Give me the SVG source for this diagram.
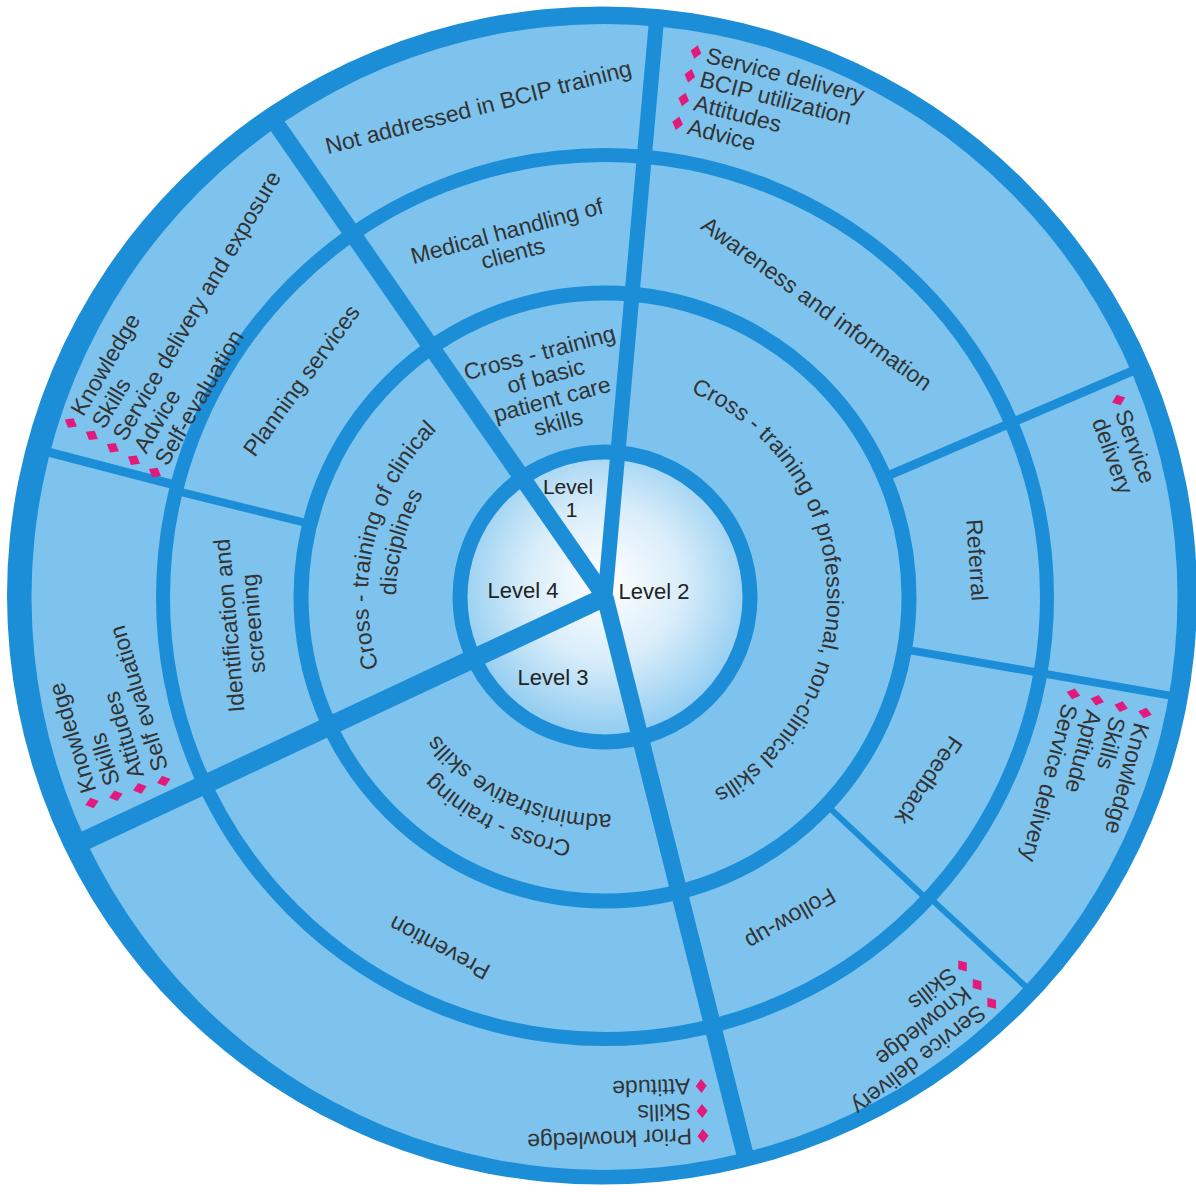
<svg xmlns="http://www.w3.org/2000/svg" width="1196" height="1192" viewBox="0 0 1196 1192">
<defs>
<radialGradient id="cg" cx="0.5" cy="0.45" r="0.55">
<stop offset="0" stop-color="#ffffff"/>
<stop offset="0.5" stop-color="#d9edfa"/>
<stop offset="1" stop-color="#8ecbf0"/>
</radialGradient>
<path id="dm" d="M0,-7 L5.5,0 L0,7 L-5.5,0 Z"/>
<path id="a2" d="M630.9,376.5 A222,222 0 0 1 656.1,813.1"/>
<path id="a4a" d="M509.4,813.9 A237,237 0 0 1 620.7,360.5"/>
<path id="a4b" d="M516.7,786.4 A209,209 0 0 1 623.2,388.8"/>
<path id="a3a" d="M804,741.6 A246,246 0 0 1 368.5,529.2"/>
<path id="a3b" d="M783.8,719.9 A217,217 0 0 1 394.9,542.7"/>
</defs>
<style>
.t{font-family:"Liberation Sans",Arial,Helvetica,sans-serif;font-size:23px;fill:#333}
.lv{font-family:"Liberation Sans",Arial,Helvetica,sans-serif;font-size:22px;fill:#222;text-anchor:middle}
.m{text-anchor:middle}
.ring{fill:none;stroke:#1c8ed7}
.dv{stroke:#1c8ed7;stroke-linecap:butt}
.dm{fill:#e3197b}
</style>
<rect width="1196" height="1192" fill="#ffffff"/>
<g id="wheel">
<ellipse cx="602" cy="595.5" rx="595" ry="589" fill="#1c8ed7"/>
<circle cx="604.5" cy="597" r="573" fill="#7dc3ee"/>
<circle cx="605" cy="597" r="140" fill="url(#cg)"/>
<circle class="ring" cx="605" cy="597" r="145" stroke-width="15"/>
<circle class="ring" cx="605" cy="597" r="304" stroke-width="15"/>
<circle class="ring" cx="605" cy="597" r="442" stroke-width="14"/>
</g>
<g id="connectors">
<line class="dv" x1="605" y1="597" x2="275.1" y2="122.4" stroke-width="17"/>
<line class="dv" x1="605" y1="597" x2="656.4" y2="21.3" stroke-width="15"/>
<line class="dv" x1="605" y1="597" x2="81.6" y2="842.2" stroke-width="19"/>
<line class="dv" x1="605" y1="597" x2="745.8" y2="1157.6" stroke-width="17"/>
<line class="dv" x1="313.8" y1="524.9" x2="172.1" y2="489.9" stroke-width="8"/>
<line class="dv" x1="181.1" y1="486.6" x2="45.7" y2="451.3" stroke-width="9"/>
<line class="dv" x1="880.7" y1="478.8" x2="1136.2" y2="369.3" stroke-width="9"/>
<line class="dv" x1="900.5" y1="648.6" x2="1174.4" y2="696.4" stroke-width="8"/>
<line class="dv" x1="823.7" y1="802.4" x2="930.1" y2="902.3" stroke-width="6"/>
<line class="dv" x1="926.4" y1="894.6" x2="1029.1" y2="989.7" stroke-width="6"/>
</g>
<g id="level1">
<text class="lv" x="568" y="494" style="font-size:21px">Level</text>
<text class="lv" x="571.5" y="517" style="font-size:21px">1</text>
<g transform="translate(605,597) rotate(-15)">
<text class="t m" x="0" y="-245">Cross - training</text>
<text class="t m" x="0" y="-221">of basic</text>
<text class="t m" x="0" y="-197">patient care</text>
<text class="t m" x="0" y="-173">skills</text>
</g>
<g transform="translate(605,597) rotate(-15)">
<text class="t m" x="0" y="-371">Medical handling of</text>
<text class="t m" x="0" y="-348">clients</text>
</g>
<g transform="translate(605,597) rotate(-14.5)">
<text class="t m" x="0" y="-498">Not addressed in BCIP training</text>
</g>
</g>
<g id="level2">
<text class="lv" x="654" y="599">Level 2</text>
<text class="t"><textPath href="#a2" startOffset="50%" text-anchor="middle">Cross - training of professional, non-clinical skills</textPath></text>
<text class="t m" transform="translate(812,310) rotate(36)">Awareness and information</text>
<text class="t m" transform="translate(969,560.5) rotate(86)">Referral</text>
<text class="t m" transform="translate(922.2,776) rotate(124)">Feedback</text>
<text class="t m" transform="translate(786.5,912) rotate(150)">Follow-up</text>
<g transform="translate(696,52) rotate(14.5)">
<use href="#dm" class="dm" x="0" y="0"/>
<use href="#dm" class="dm" x="0" y="24.5"/>
<use href="#dm" class="dm" x="0" y="49"/>
<use href="#dm" class="dm" x="0" y="73.5"/>
<text class="t" x="11" y="8">Service delivery</text>
<text class="t" x="11" y="32.5">BCIP utilization</text>
<text class="t" x="11" y="57">Attitudes</text>
<text class="t" x="11" y="81.5">Advice</text>
</g>
<g transform="translate(1118.6,400) rotate(70)">
<use href="#dm" class="dm" x="0" y="0"/>
<text class="t" x="11" y="8">Service</text>
<text class="t" x="11" y="32.5">delivery</text>
</g>
<g transform="translate(1145,713) rotate(105)">
<use href="#dm" class="dm" x="0" y="0"/>
<use href="#dm" class="dm" x="0" y="24.7"/>
<use href="#dm" class="dm" x="0" y="49.4"/>
<use href="#dm" class="dm" x="0" y="74.1"/>
<text class="t" x="11" y="8">Knowledge</text>
<text class="t" x="11" y="32.7">Skills</text>
<text class="t" x="11" y="57.4">Aptitude</text>
<text class="t" x="11" y="82.1">Service delivery</text>
</g>
<g transform="translate(991.7,1003.3) rotate(142)">
<use href="#dm" class="dm" x="0" y="0"/>
<use href="#dm" class="dm" x="0" y="23.7"/>
<use href="#dm" class="dm" x="0" y="47.4"/>
<text class="t" x="11" y="8">Service delivery</text>
<text class="t" x="11" y="31.7">Knowledge</text>
<text class="t" x="11" y="55.4">Skills</text>
</g>
</g>
<g id="level3">
<text class="lv" x="553" y="685">Level 3</text>
<text class="t"><textPath href="#a3a" startOffset="50%" text-anchor="middle">Cross - training</textPath></text>
<text class="t"><textPath href="#a3b" startOffset="50%" text-anchor="middle">administrative skills</textPath></text>
<text class="t m" transform="translate(443.3,940.8) rotate(-152)">Prevention</text>
<g transform="translate(703,1136) rotate(178)">
<use href="#dm" class="dm" x="0" y="0"/>
<use href="#dm" class="dm" x="0" y="25"/>
<use href="#dm" class="dm" x="0" y="50"/>
<text class="t" x="11" y="8">Prior knowledge</text>
<text class="t" x="11" y="33">Skills</text>
<text class="t" x="11" y="58">Attitude</text>
</g>
</g>
<g id="level4">
<text class="lv" x="523" y="598">Level 4</text>
<text class="t"><textPath href="#a4a" startOffset="50%" text-anchor="middle">Cross - training of clinical</textPath></text>
<text class="t"><textPath href="#a4b" startOffset="50%" text-anchor="middle">disciplines</textPath></text>
<text class="t m" transform="translate(307.7,385.1) rotate(-54)">Planning services</text>
<g transform="translate(237,625) rotate(-95)">
<text class="t m" x="0" y="0">Identification and</text>
<text class="t m" x="0" y="24">screening</text>
</g>
<g transform="translate(70.8,423) rotate(-59.5)">
<use href="#dm" class="dm" x="0" y="0"/>
<use href="#dm" class="dm" x="0" y="24.4"/>
<use href="#dm" class="dm" x="0" y="48.8"/>
<use href="#dm" class="dm" x="0" y="73.2"/>
<use href="#dm" class="dm" x="0" y="97.6"/>
<text class="t" x="11" y="8">Knowledge</text>
<text class="t" x="11" y="32.4">Skills</text>
<text class="t" x="11" y="56.8">Service delivery and exposure</text>
<text class="t" x="11" y="81.2">Advice</text>
<text class="t" x="11" y="105.6">Self-evaluation</text>
</g>
<g transform="translate(92,803) rotate(-107)">
<use href="#dm" class="dm" x="0" y="0"/>
<use href="#dm" class="dm" x="0" y="25"/>
<use href="#dm" class="dm" x="0" y="50"/>
<use href="#dm" class="dm" x="0" y="75"/>
<text class="t" x="11" y="8">Knowledge</text>
<text class="t" x="11" y="33">Skills</text>
<text class="t" x="11" y="58">Attitudes</text>
<text class="t" x="11" y="83">Self evaluation</text>
</g>
</g>
</svg>
